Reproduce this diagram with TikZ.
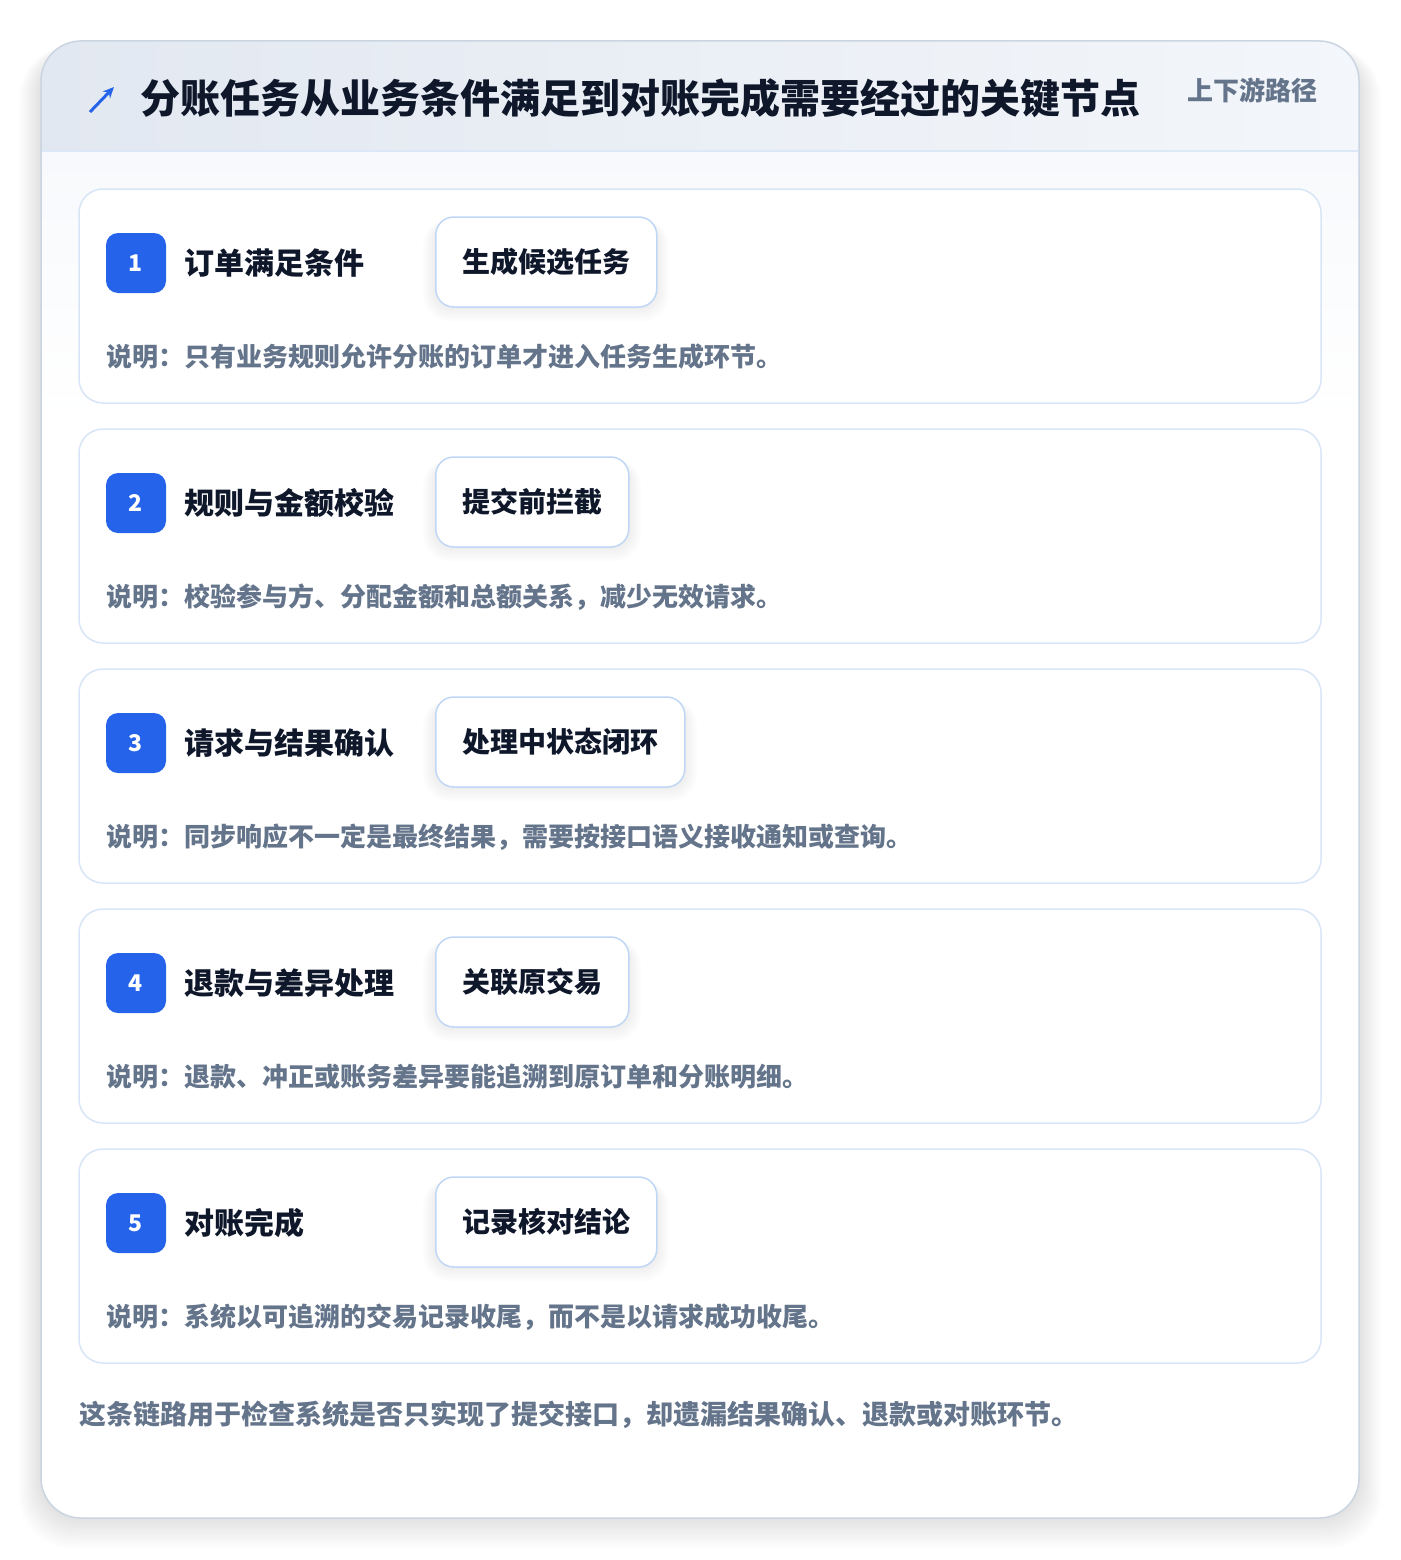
\documentclass[tikz,border=0pt]{standalone}
\usepackage{fontspec}
\setmainfont{Noto Sans CJK SC}
\usetikzlibrary{arrows.meta}
\definecolor{accent}{HTML}{2563EB}
\definecolor{ink}{HTML}{0F172A}
\definecolor{muted}{HTML}{64748B}
\definecolor{cardline}{HTML}{D8E5F6}
\definecolor{tagline}{HTML}{BFD7F5}
\definecolor{outerline}{HTML}{CBD5E1}
\definecolor{hdrL}{HTML}{E2E8F1}
\definecolor{hdrR}{HTML}{F3F6FA}
\definecolor{hdrline}{HTML}{DCE8F7}
\definecolor{bodyT}{HTML}{F7F9FC}
\definecolor{shadowc}{HTML}{334155}
\begin{document}
\begin{tikzpicture}[x=1pt,y=-1pt,
  cardbox/.style={draw=cardline, line width=1.5pt, fill=white, rounded corners=24pt},
  badgebox/.style={fill=accent, rounded corners=12pt, minimum width=60pt, minimum height=60pt, inner sep=0pt, text=white, font=\bfseries\fontsize{23}{27}\selectfont},
  steptitle/.style={anchor=west, inner sep=0pt, text=ink, font=\bfseries\fontsize{30}{36}\selectfont},
  tagbox/.style={anchor=west, draw=tagline, line width=1.5pt, fill=white, rounded corners=18pt, minimum height=90pt, inner xsep=26.5pt, inner ysep=0pt, text=ink, font=\bfseries\fontsize{28}{34}\selectfont},
  desctext/.style={anchor=west, inner sep=0pt, text=muted, font=\bfseries\fontsize{26}{30}\selectfont},
]
\useasboundingbox (0,0) rectangle (1400,1560);
\fill[white] (0,0) rectangle (1400,1560);
% outer card shadow (stacked soft layers)
\foreach \i in {1,...,14}{
  \fill[shadowc, opacity=0.009, rounded corners=40pt+\i pt] (41-\i*1.6,41-\i*0.4+10) rectangle (1359+\i*1.6,1518+\i*2.2);
}
\fill[white, rounded corners=40pt] (41,41) rectangle (1359,1518);
\begin{scope}
  \clip[rounded corners=40pt] (41,41) rectangle (1359,1518);
  \shade[left color=hdrL, right color=hdrR] (41,41) rectangle (1359,151);
  \shade[top color=bodyT, bottom color=white] (41,151) rectangle (1359,420);
\end{scope}
\draw[hdrline, line width=1.5pt] (42,151) -- (1358,151);
\draw[outerline, line width=1.5pt, rounded corners=40pt] (41,41) rectangle (1359,1518);
% header
\coordinate (arrS) at (90,112);
\coordinate (arrE) at (114,87);
\draw[accent, line width=3pt, -{Stealth[length=11pt,width=10pt]}] (arrS) -- (arrE);
\node[anchor=west, inner sep=0pt, text=ink, font=\bfseries\fontsize{40}{48}\selectfont] (title) at (140,98) {分账任务从业务条件满足到对账完成需要经过的关键节点};
\node[anchor=east, inner sep=0pt, text=muted, font=\bfseries\fontsize{26}{30}\selectfont] (path) at (1318,90) {上下游路径};
% cards
\foreach \top/\n/\ttl/\tg/\tr/\ds in {
  189/1/订单满足条件/生成候选任务/657/说明：只有业务规则允许分账的订单才进入任务生成环节。,
  429/2/规则与金额校验/提交前拦截/629/说明：校验参与方、分配金额和总额关系，减少无效请求。,
  669/3/请求与结果确认/处理中状态闭环/685/说明：同步响应不一定是最终结果，需要按接口语义接收通知或查询。,
  909/4/退款与差异处理/关联原交易/629/说明：退款、冲正或账务差异要能追溯到原订单和分账明细。,
  1149/5/对账完成/记录核对结论/657/说明：系统以可追溯的交易记录收尾，而不是以请求成功收尾。}{
  \draw[cardbox] (79,\top) rectangle (1321,\top+214);
  \node[badgebox] (badge\n) at (136,\top+74) {\n};
  \node[steptitle] (step\n) at (184,\top+74) {\ttl};
  \foreach \k in {1,...,8}{
    \fill[shadowc, opacity=0.007, rounded corners=18pt+\k pt] (435-\k*1.5,\top+28-\k*0.4+6) rectangle (\tr+\k*1.5,\top+118+\k*1.8);
  }
  \node[tagbox] (tag\n) at (435,\top+73) {\tg};
  \node[desctext] (desc\n) at (106,\top+168) {\ds};
}
\node[anchor=west, inner sep=0pt, text=muted, font=\bfseries\fontsize{27}{32}\selectfont] (footer) at (79,1415) {这条链路用于检查系统是否只实现了提交接口，却遗漏结果确认、退款或对账环节。};
\end{tikzpicture}
\end{document}
